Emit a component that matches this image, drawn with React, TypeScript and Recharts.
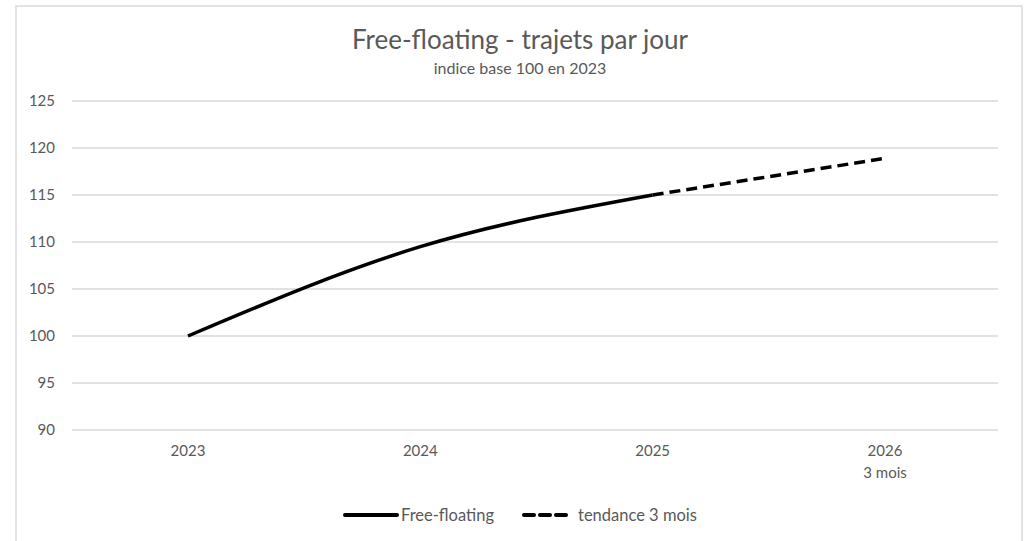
import React from 'react';
import { LineChart, Line, XAxis, YAxis, CartesianGrid, Legend } from 'recharts';

const years = ['2023', '2024', '2025', '2026\n3 mois'];
const freeFloating = [100, 109.5, 115, null];
const tendance = [null, null, 115, 118.9];
const yTicks = [90, 95, 100, 105, 110, 115, 120, 125];

const data = years.map((year, i) => ({
  year,
  freeFloating: freeFloating[i],
  tendance: tendance[i],
}));

const FONT = 'Lato, "Open Sans", sans-serif';
const TEXT = '#595959';

function YearTick(props: any) {
  const { x, y, payload } = props;
  const lines = String(payload.value).split('\n');
  return (
    <text x={x} y={y} textAnchor="middle" fill={TEXT} fontSize={15} fontFamily={FONT}>
      {lines.map((l, i) => (
        <tspan key={i} x={x} dy={i === 0 ? '1.2em' : '1.45em'}>{l}</tspan>
      ))}
    </text>
  );
}

function ChartLegend() {
  return (
    <div style={{ display: 'flex', justifyContent: 'center', alignItems: 'center', height: 30, paddingLeft: 42, fontFamily: FONT, fontSize: 16.5, color: TEXT }}>
      <svg width={56} height={10}>
        <line x1={2} y1={5} x2={54} y2={5} stroke="#000" strokeWidth={4} strokeLinecap="round" />
      </svg>
      <span style={{ marginLeft: 2 }}>Free-floating</span>
      <svg width={50} height={10} style={{ marginLeft: 28 }}>
        <line x1={2} y1={5} x2={48} y2={5} stroke="#000" strokeWidth={4} strokeDasharray="10 6" strokeLinecap="round" />
      </svg>
      <span style={{ marginLeft: 6 }}>tendance 3 mois</span>
    </div>
  );
}

export default function App() {
  return (
    <div style={{ position: 'absolute', left: 0, top: 0, width: 1031, height: 541, overflow: 'hidden', background: '#fff' }}>
      <div style={{ position: 'absolute', left: 15, top: 5, width: 1004, height: 560, border: '2px solid #e3e3e3' }} />
      <div style={{ position: 'absolute', left: 0, top: 23, width: 1040, textAlign: 'center', fontFamily: FONT, color: TEXT }}>
        <div style={{ fontSize: 26, lineHeight: '32px' }}>Free-floating - trajets par jour</div>
        <div style={{ fontSize: 16, lineHeight: '20px', marginTop: 3 }}>indice base 100 en 2023</div>
      </div>
      <div style={{ position: 'absolute', left: 0, top: 0 }}>
        <LineChart width={1031} height={541} data={data} margin={{ top: 101, right: 33, left: 0, bottom: 11 }}>
          <CartesianGrid vertical={false} stroke="#d9d9d9" strokeWidth={1.5} />
          <XAxis
            dataKey="year"
            axisLine={false}
            tickLine={false}
            height={70}
            interval={0}
            padding={{ left: 116, right: 113 }}
            tick={<YearTick />}
          />
          <YAxis
            width={72}
            domain={[90, 125]}
            ticks={yTicks}
            axisLine={false}
            tickLine={false}
            tickMargin={11}
            tick={{ fill: TEXT, fontSize: 15, fontFamily: FONT }}
          />
          <Legend verticalAlign="bottom" height={30} content={<ChartLegend />} />
          <Line type="monotone" dataKey="freeFloating" stroke="#000" strokeWidth={3.5} dot={false} isAnimationActive={false} connectNulls={false} />
          <Line type="monotone" dataKey="tendance" stroke="#000" strokeWidth={3.5} strokeDasharray="11 6" dot={false} isAnimationActive={false} />
        </LineChart>
      </div>
    </div>
  );
}
